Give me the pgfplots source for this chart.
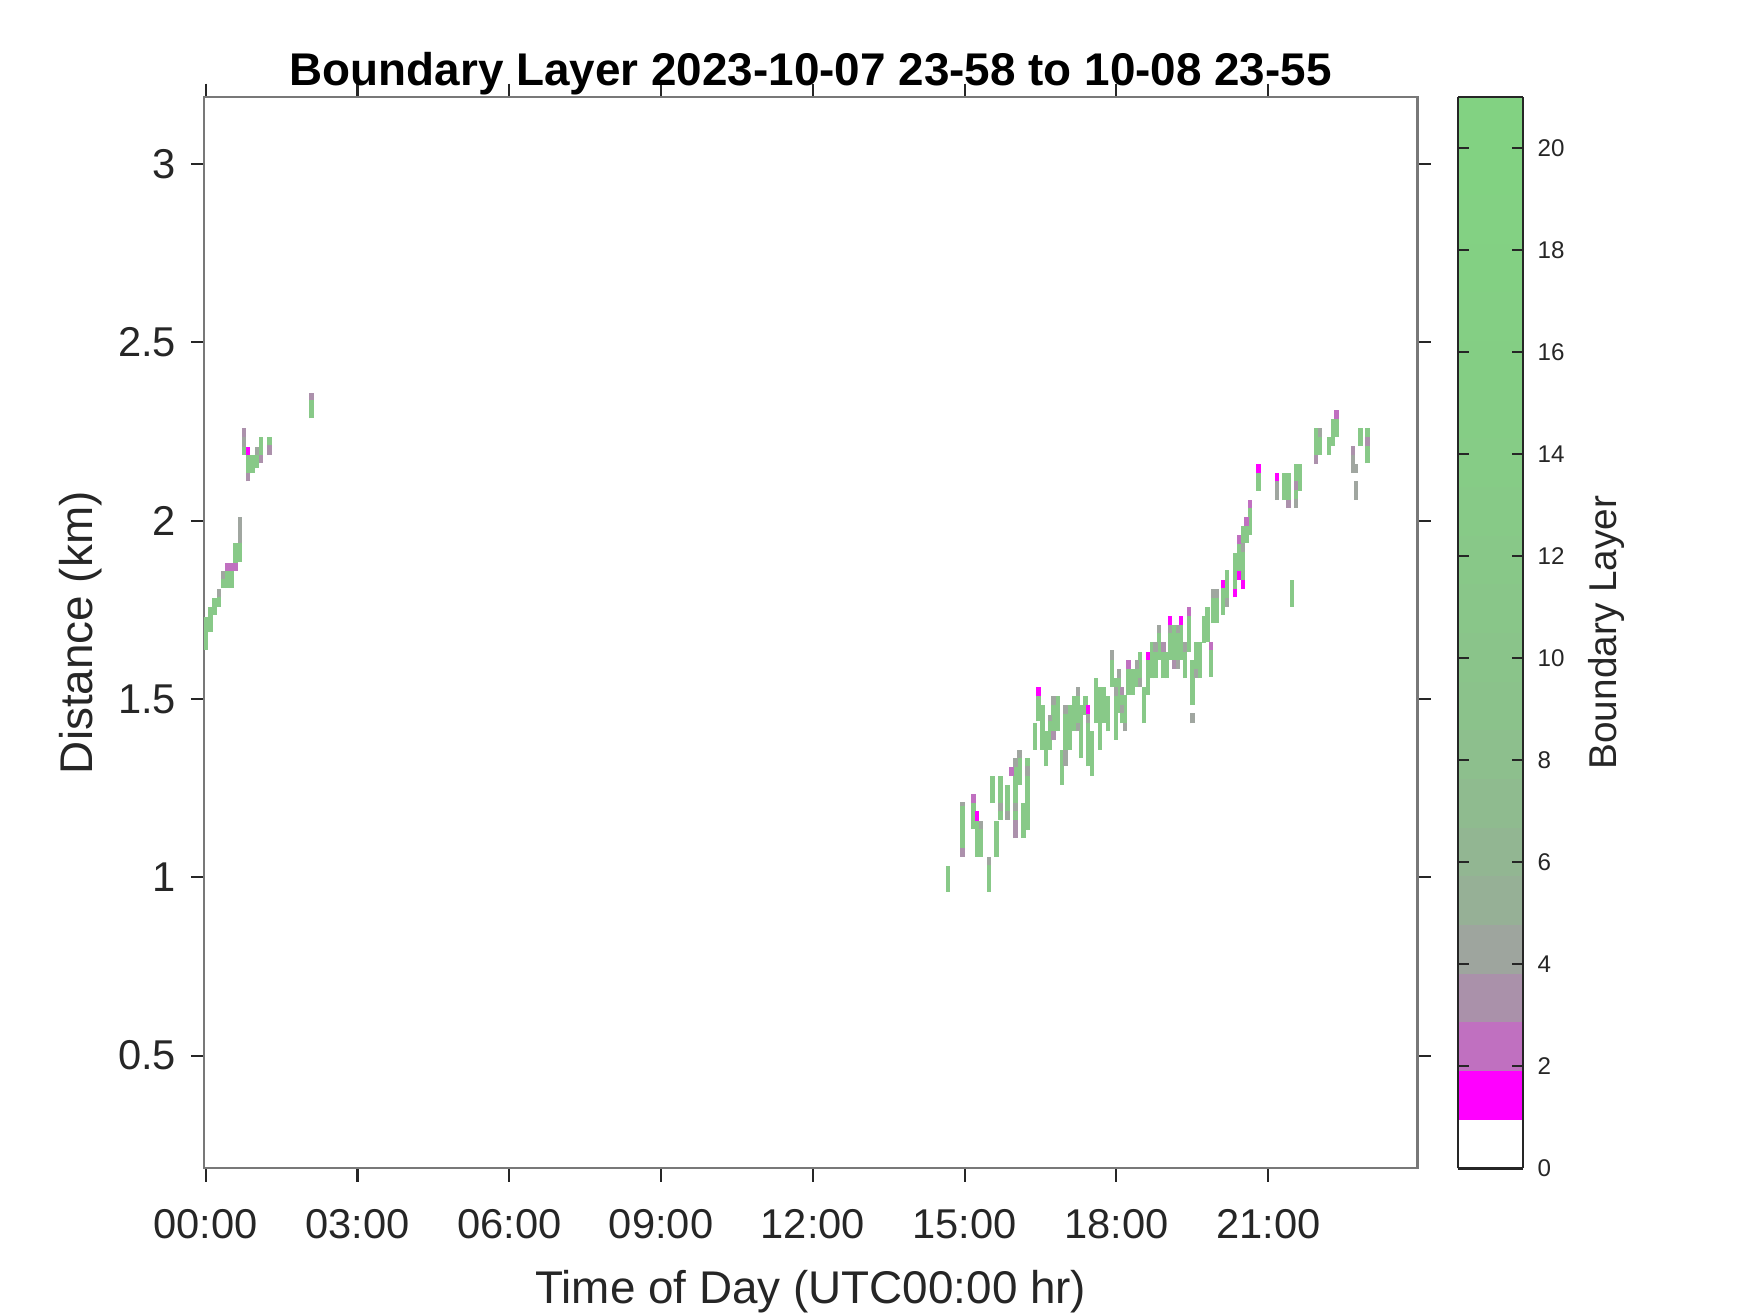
\documentclass[border=0pt]{standalone}
\usepackage{fontspec}
\setmainfont{Liberation Sans}
\usepackage{pgfplots}
\usepackage{pgfplotstable}
\pgfplotsset{compat=1.18}

\definecolor{blgreen}{RGB}{136,201,136}
\definecolor{blgrey}{RGB}{160,166,160}
\definecolor{blmauve}{RGB}{172,145,172}
\definecolor{blpurple}{RGB}{192,112,192}
\definecolor{blmag}{RGB}{255,0,255}
\definecolor{axgrey}{RGB}{120,120,120}
\definecolor{tickcol}{RGB}{38,38,38}

\pgfplotsset{colormap={blmap}{
  rgb255=(255,255,255) rgb255=(255,0,255) rgb255=(192,112,192) rgb255=(170,145,170)
  rgb255=(158,165,158) rgb255=(150,176,150) rgb255=(146,182,146) rgb255=(143,187,143)
  rgb255=(141,191,141) rgb255=(139,194,139) rgb255=(138,196,138) rgb255=(137,198,137)
  rgb255=(136,200,136) rgb255=(135,202,135) rgb255=(134,204,134) rgb255=(133,205,133)
  rgb255=(132,206,132) rgb255=(132,207,132) rgb255=(131,208,131) rgb255=(131,209,131)
  rgb255=(130,210,130) rgb255=(130,210,130)}}

% boundary-layer cells: time (hr), bottom (km), top (km)
\pgfplotstableread{
x y0 y1
0.01 1.638 1.731
0.092 1.687 1.759
0.175 1.736 1.782
0.258 1.759 1.785
0.342 1.811 1.836
0.425 1.811 1.860
0.508 1.811 1.860
0.592 1.882 1.937
0.675 1.885 1.937
0.758 2.184 2.236
0.842 2.133 2.184
0.925 2.133 2.184
1.008 2.147 2.184
1.092 2.184 2.234
1.258 2.212 2.234
2.092 2.287 2.338
14.668 0.960 1.032
14.959 1.082 1.199
15.176 1.135 1.208
15.249 1.058 1.158
15.328 1.058 1.135
15.48 0.960 1.035
15.552 1.208 1.285
15.631 1.058 1.159
15.71 1.161 1.285
15.849 1.161 1.259
16.007 1.110 1.309
16.086 1.259 1.334
16.166 1.110 1.208
16.245 1.134 1.334
16.39 1.358 1.432
16.462 1.437 1.509
16.541 1.358 1.484
16.607 1.311 1.409
16.687 1.358 1.437
16.759 1.409 1.484
16.838 1.409 1.509
16.918 1.260 1.358
16.99 1.358 1.459
17.069 1.358 1.484
17.155 1.409 1.509
17.234 1.432 1.509
17.30 1.334 1.484
17.386 1.456 1.509
17.432 1.311 1.432
17.511 1.285 1.409
17.59 1.432 1.559
17.67 1.358 1.535
17.749 1.432 1.535
17.828 1.409 1.509
17.907 1.535 1.610
17.986 1.386 1.559
18.05 1.460 1.558
18.11 1.432 1.512
18.17 1.432 1.512
18.24 1.512 1.584
18.32 1.512 1.584
18.40 1.535 1.584
18.46 1.558 1.633
18.55 1.432 1.535
18.62 1.512 1.610
18.70 1.558 1.661
18.77 1.558 1.633
18.84 1.610 1.684
18.93 1.558 1.661
19.00 1.558 1.633
19.06 1.610 1.684
19.14 1.610 1.708
19.22 1.610 1.684
19.28 1.610 1.708
19.35 1.558 1.633
19.43 1.633 1.733
19.50 1.484 1.610
19.57 1.584 1.661
19.65 1.558 1.661
19.73 1.658 1.733
19.80 1.661 1.759
19.87 1.563 1.638
19.92 1.713 1.784
19.99 1.713 1.808
20.10 1.736 1.811
20.18 1.784 1.862
20.34 1.808 1.909
20.42 1.860 1.935
20.50 1.834 1.985
20.57 1.937 1.985
20.64 1.960 2.035
20.81 2.084 2.135
21.32 2.058 2.135
21.40 2.058 2.135
21.47 1.759 1.834
21.55 2.060 2.159
21.62 2.084 2.159
21.94 2.184 2.259
22.02 2.184 2.234
22.20 2.184 2.234
22.28 2.209 2.284
22.35 2.234 2.284
22.82 2.209 2.259
22.96 2.161 2.259
}\greencells

\pgfplotstableread{
x y0 y1
0.258 1.785 1.808
0.342 1.836 1.860
0.675 1.937 2.011
0.758 2.208 2.236
1.008 2.184 2.208
14.959 1.199 1.210
15.328 1.135 1.158
15.48 1.035 1.056
15.71 1.185 1.208
15.849 1.161 1.185
16.007 1.309 1.334
16.007 1.185 1.208
16.086 1.334 1.357
16.245 1.285 1.311
16.687 1.437 1.456
16.759 1.484 1.509
16.99 1.459 1.484
16.99 1.311 1.358
17.234 1.509 1.535
17.234 1.409 1.432
17.432 1.432 1.459
17.907 1.610 1.638
17.986 1.509 1.535
18.05 1.558 1.584
18.11 1.460 1.484
18.17 1.409 1.432
18.40 1.584 1.610
18.46 1.535 1.558
18.77 1.633 1.661
18.84 1.684 1.708
19.06 1.684 1.708
19.22 1.684 1.708
19.22 1.584 1.610
19.35 1.633 1.661
19.50 1.432 1.460
19.57 1.558 1.584
19.92 1.784 1.808
19.99 1.784 1.808
20.18 1.759 1.784
20.50 1.911 1.937
21.17 2.058 2.110
21.55 2.035 2.060
22.02 2.234 2.259
22.68 2.135 2.184
22.74 2.135 2.160
22.74 2.058 2.110
}\greycells

\pgfplotstableread{
x y0 y1
0.758 2.236 2.259
0.842 2.110 2.133
1.092 2.161 2.184
1.258 2.184 2.212
2.092 2.338 2.357
14.959 1.058 1.082
16.007 1.110 1.161
16.759 1.384 1.409
18.11 1.512 1.535
18.93 1.633 1.661
19.14 1.584 1.610
21.40 2.035 2.058
21.55 2.086 2.110
21.94 2.159 2.184
22.68 2.184 2.209
22.96 2.210 2.236
}\mauvecells

\pgfplotstableread{
x y0 y1
0.425 1.860 1.882
0.508 1.860 1.882
0.592 1.860 1.882
15.176 1.208 1.234
15.928 1.285 1.309
18.24 1.584 1.610
19.43 1.733 1.759
19.87 1.638 1.661
20.42 1.935 1.960
20.57 1.985 2.011
20.64 2.035 2.058
22.35 2.284 2.311
}\purplecells

\pgfplotstableread{
x y0 y1
0.842 2.184 2.208
15.249 1.158 1.185
16.462 1.509 1.535
17.432 1.459 1.484
18.62 1.610 1.633
19.06 1.708 1.733
19.28 1.708 1.733
20.10 1.811 1.834
20.34 1.785 1.808
20.42 1.834 1.860
20.50 1.808 1.834
20.81 2.135 2.159
21.17 2.110 2.135
}\magentacells

\begin{document}
\begin{tikzpicture}
\useasboundingbox (0,0) rectangle (420pt,315pt);
\begin{axis}[
    at={(49pt,34.6pt)}, anchor=south west,
    scale only axis, width=291.2pt, height=257.1pt,
    xmin=-0.03, xmax=23.95, ymin=0.184, ymax=3.188,
    xtick={0,3,...,21},
    xticklabels={00:00,03:00,06:00,09:00,12:00,15:00,18:00,21:00},
    ytick={0.5,1,1.5,2,2.5,3},
    tick align=outside, major tick length=3.2pt,
    tick style={tickcol, line width=0.5pt},
    axis line style={axgrey, line width=0.5pt},
    ticklabel style={font=\fontsize{10}{12}\selectfont, text=tickcol},
    xticklabel style={yshift=-3.2pt},
    /pgf/number format/assume math mode=true,
    title={Boundary Layer 2023-10-07 23-58 to 10-08 23-55},
    title style={font=\bfseries\fontsize{11}{13}\selectfont, at={(axis description cs:0.5,1)}, anchor=base, yshift=-3.3pt},
    xlabel={Time of Day (UTC00:00 hr)},
    ylabel={Distance (km)},
    label style={font=\fontsize{11}{13}\selectfont, text=tickcol},
    xlabel style={at={(axis description cs:0.5,0)}, anchor=base, yshift=-32.4pt},
    ylabel style={at={(axis description cs:0,0.5)}, anchor=center, yshift=29.7pt},
    colormap name=blmap, colormap access=piecewise constant,
    point meta min=0, point meta max=21,
    colorbar right,
    colorbar style={
        at={(parent axis.north east)}, anchor=north west, xshift=1.2pt,
        width=15.55pt,
        ytick={0,2,...,20},
        tick align=inside, major tick length=2.6pt,
        tick style={tickcol, line width=0.5pt},
        axis line style={tickcol, line width=0.6pt},
        yticklabel style={font=\fontsize{5.8}{7}\selectfont, text=tickcol, /pgf/number format/assume math mode=true},
        ylabel={Boundary Layer},
        ylabel style={font=\fontsize{9.3}{11}\selectfont, text=tickcol, at={(axis description cs:1,0.5)}, anchor=center, yshift=-20.1pt},
    },
]
\addplot[draw=blgreen, line width=1.05pt, quiver={u=0, v=\thisrow{y1}-\thisrow{y0}}] table[x=x, y=y0] {\greencells};
\addplot[draw=blgrey, line width=1.05pt, quiver={u=0, v=\thisrow{y1}-\thisrow{y0}}] table[x=x, y=y0] {\greycells};
\addplot[draw=blmauve, line width=1.05pt, quiver={u=0, v=\thisrow{y1}-\thisrow{y0}}] table[x=x, y=y0] {\mauvecells};
\addplot[draw=blpurple, line width=1.05pt, quiver={u=0, v=\thisrow{y1}-\thisrow{y0}}] table[x=x, y=y0] {\purplecells};
\addplot[draw=blmag, line width=1.05pt, quiver={u=0, v=\thisrow{y1}-\thisrow{y0}}] table[x=x, y=y0] {\magentacells};
\end{axis}
\end{tikzpicture}
\end{document}
